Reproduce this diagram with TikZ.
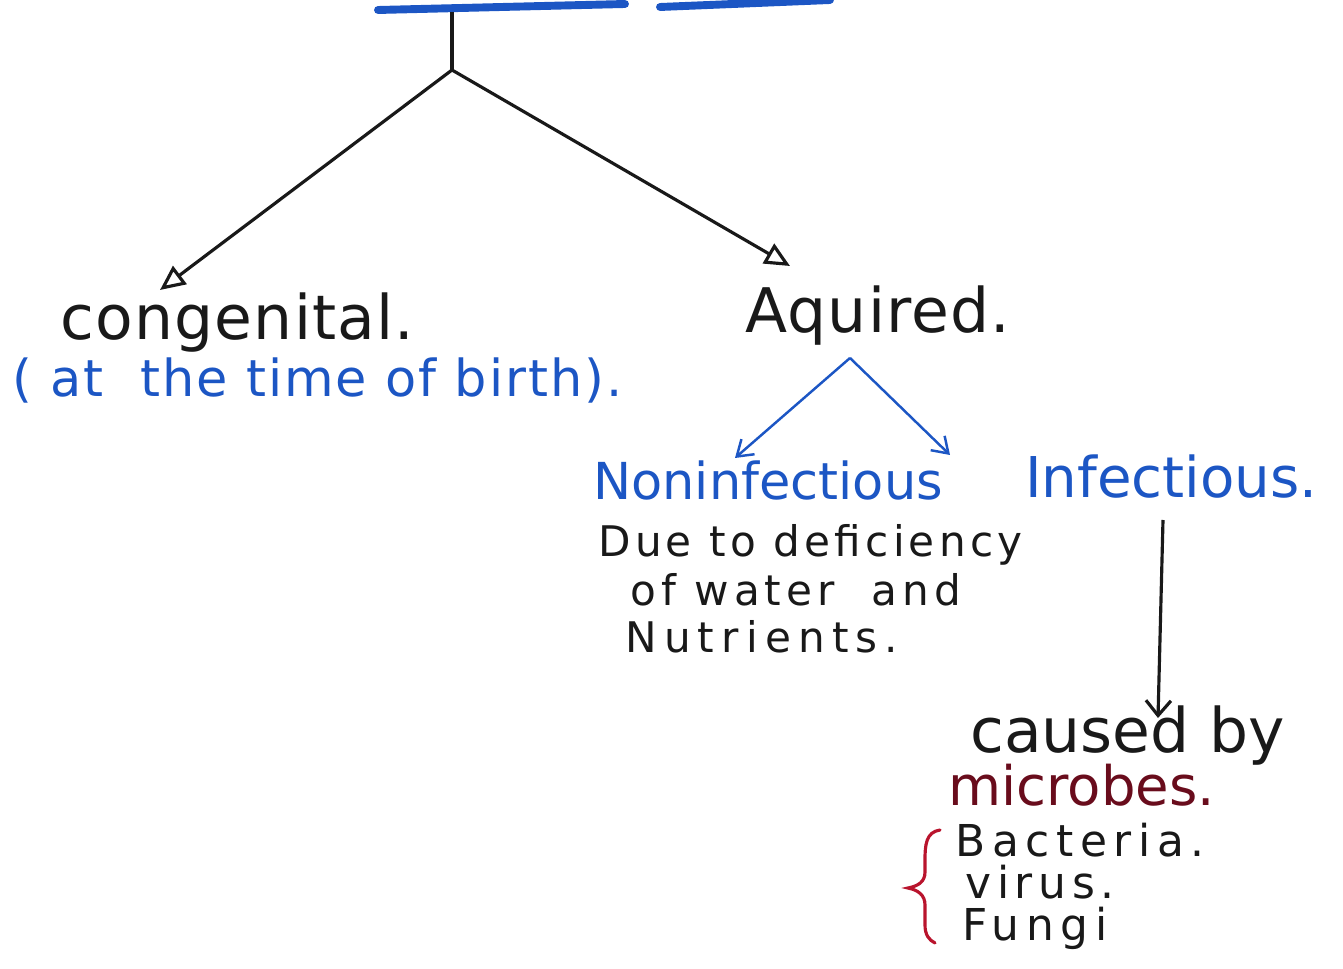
\documentclass[tikz,border=0pt]{standalone}
\usepackage{fontspec}
\setmainfont{DejaVu Sans}
\usetikzlibrary{arrows.meta}
\definecolor{penblue}{RGB}{28,86,196}
\definecolor{penred}{RGB}{185,20,45}
\definecolor{penink}{RGB}{25,25,25}
\definecolor{microred}{RGB}{105,12,28}
\newcommand{\handsize}[2]{\fontsize{#1}{#1}\selectfont\addfontfeature{LetterSpace=#2}}
\tikzset{
  ink/.style={text=penink},
  bluetxt/.style={text=penblue},
  blackarrow/.style={->, draw=penink, line width=1.8pt},
  bluearrow/.style={-{Straight Barb[length=3mm,width=4mm]}, draw=penblue, line width=1.4pt},
}

\begin{document}
\begin{tikzpicture}[x=0.02cm, y=-0.02cm, every node/.style={font=\handsize{31}{0}, inner sep=0pt, anchor=base west}, >={Triangle[open,length=5mm,width=4.5mm]}]
	\useasboundingbox (0,0) rectangle (1343,969);
	\begin{scope}
		\coordinate (head1) at (378,10);
		\coordinate (head2) at (625,4);
		\coordinate (head3) at (660,7);
		\coordinate (head4) at (830,0);
		\draw[penblue, line width=4.5pt, line cap=round] (head1) -- (head2);
		\draw[penblue, line width=4.5pt, line cap=round] (head3) -- (head4);
		\coordinate (stem) at (452,12);
		\coordinate (fork) at (452,70);
		\coordinate (congtip) at (160,290);
		\coordinate (aqtip) at (790,266);
		\draw[penink, line width=1.9pt] (stem) -- (fork);
		\draw[blackarrow] (fork) -- (congtip);
		\draw[blackarrow] (fork) -- (aqtip);
	\end{scope}
	\node[ink, font=\handsize{35}{2}] (cong) at (60,340) {congenital.};
	\node[bluetxt, font=\handsize{29}{4}] (birth) at (12,397) {( at\ \ the time of birth).};
	\node[ink, font=\handsize{35}{2}] (aq) at (745,333) {Aquired.};
	\coordinate (aqsplit) at (850,358);
	\coordinate (nontip) at (735,458);
	\coordinate (inftip) at (950,455);
	\draw[bluearrow] (aqsplit) -- (nontip);
	\draw[bluearrow] (aqsplit) -- (inftip);
	\node[bluetxt, font=\handsize{29}{0}] (nonin) at (593,500) {Noninfectious};
	\node[bluetxt, font=\handsize{32}{0}] (infec) at (1025,498) {Infectious.};
	\node[ink, font=\handsize{24}{10}] (due1) at (598,557) {Due to deficiency};
	\node[ink, font=\handsize{24}{12}] (due2) at (630,605) {of water\ \ and};
	\node[ink, font=\handsize{24}{17}] (due3) at (625,652) {Nutrients.};
	\node[ink, font=\handsize{35}{0}] (caused) at (970,752) {caused by};
	\node[text=microred] (microbes) at (948,805) {microbes.};
	\node[ink, font=\handsize{25}{15}] (bact) at (955,856) {Bacteria.};
	\node[ink, font=\handsize{25}{13}] (virus) at (965,898) {virus.};
	\node[ink, font=\handsize{25}{15}] (fungi) at (962,940) {Fungi};
	\coordinate (infdrop) at (1163,520);
	\coordinate (infend) at (1158,718);
	\draw[-{Straight Barb[length=3mm,width=5mm]}, draw=penink, line width=1.8pt] (infdrop) -- (infend);
	\draw[penred, line width=1.8pt, line cap=round] (940,830) .. controls (926,832) and (925,845) .. (925,860) -- (925,872) .. controls (925,882) and (918,886) .. (908,888) .. controls (918,890) and (925,895) .. (925,905) -- (925,925) .. controls (925,935) and (929,940) .. (935,943);
\end{tikzpicture}
\end{document}
